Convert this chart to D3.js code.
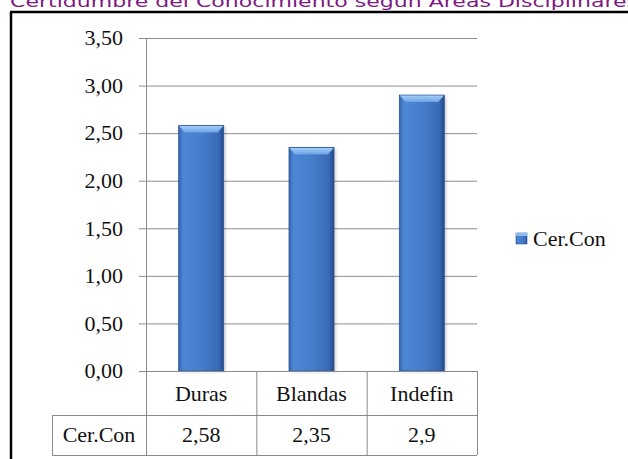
<html>
<head>
<meta charset="utf-8">
<script src="https://d3js.org/d3.v7.min.js"></script>
<style>
body { margin: 0; background: #fff; }
svg { display: block; }
</style>
</head>
<body>
<svg id="chart" width="628" height="459"></svg>
<script>
// data
var categories = ["Duras", "Blandas", "Indefin"];
var values = [2.58, 2.35, 2.9];
var valueLabels = ["2,58", "2,35", "2,9"];
var seriesName = "Cer.Con";
var yTicks = [0, 0.5, 1, 1.5, 2, 2.5, 3, 3.5];
var title = "Certidumbre del Conocimiento según Áreas Disciplinares";

var svg = d3.select("#chart");
var serif = "'Liberation Serif', 'DejaVu Serif', serif";
var fontSize = 22;

// scales
var x = d3.scaleBand().domain(categories).range([146, 477]);
var y = d3.scaleLinear().domain([0, 3.5]).range([371, 38]);
var barW = 45;
var fmt = function(d){ return d3.format(".2f")(d).replace(".", ","); };

function label(sel){
  return sel.style("font-family", serif).style("font-size", fontSize + "px").attr("fill", "#111");
}

var defs = svg.append("defs");
var g1 = defs.append("linearGradient").attr("id", "barGrad").attr("x1", 0).attr("x2", 1).attr("y1", 0).attr("y2", 0);
g1.append("stop").attr("offset", "0%").attr("stop-color", "#3566b0");
g1.append("stop").attr("offset", "10%").attr("stop-color", "#4d86d4");
g1.append("stop").attr("offset", "50%").attr("stop-color", "#467ecc");
g1.append("stop").attr("offset", "88%").attr("stop-color", "#3a6ab6");
g1.append("stop").attr("offset", "100%").attr("stop-color", "#234a8c");
var g2 = defs.append("linearGradient").attr("id", "topGrad").attr("x1", 0).attr("x2", 0).attr("y1", 0).attr("y2", 1);
g2.append("stop").attr("offset", "0%").attr("stop-color", "#a4cdf8");
g2.append("stop").attr("offset", "100%").attr("stop-color", "#6aa2e6");
defs.append("filter").attr("id", "blur").append("feGaussianBlur").attr("stdDeviation", 1.5);

// title (cut at the top like the original)
svg.append("text")
  .attr("x", 10).attr("y", 7)
  .attr("textLength", 628).attr("lengthAdjust", "spacingAndGlyphs")
  .style("font-family", "'DejaVu Sans', sans-serif")
  .style("font-size", "16px")
  .attr("fill", "#7d1a80")
  .text(title);

// frame
svg.append("line").attr("x1", 10).attr("x2", 628).attr("y1", 12).attr("y2", 12)
  .attr("stroke", "#000").attr("stroke-width", 2.5);
svg.append("line").attr("x1", 11).attr("x2", 11).attr("y1", 12).attr("y2", 459)
  .attr("stroke", "#000").attr("stroke-width", 2.5);

var gridColor = "#8e8e8e";

// grid + ticks
svg.selectAll(".grid").data(yTicks.filter(function(d){ return d > 0; })).enter().append("line")
  .attr("x1", 146).attr("x2", 477)
  .attr("y1", function(d){ return y(d) + 0.5; }).attr("y2", function(d){ return y(d) + 0.5; })
  .attr("stroke", gridColor).attr("stroke-width", 1);
svg.selectAll(".tick").data(yTicks).enter().append("line")
  .attr("x1", 139).attr("x2", 146)
  .attr("y1", function(d){ return y(d) + 0.5; }).attr("y2", function(d){ return y(d) + 0.5; })
  .attr("stroke", gridColor);
label(svg.selectAll(".ylab").data(yTicks).enter().append("text")
  .attr("x", 123).attr("y", function(d){ return y(d); }).attr("dy", "0.33em")
  .attr("text-anchor", "end"))
  .text(fmt);

// bars
var bars = svg.selectAll(".bar").data(values).enter().append("g");
bars.append("rect")
  .attr("x", function(d, i){ return x(categories[i]) + x.bandwidth()/2 - barW/2 + 2; })
  .attr("y", function(d){ return y(d) + 1; })
  .attr("width", barW).attr("height", function(d){ return y(0) - y(d); })
  .attr("fill", "#000").attr("opacity", 0.18).attr("filter", "url(#blur)");
bars.append("rect")
  .attr("x", function(d, i){ return x(categories[i]) + x.bandwidth()/2 - barW/2; })
  .attr("y", function(d){ return y(d); })
  .attr("width", barW).attr("height", function(d){ return y(0) - y(d); })
  .attr("fill", "url(#barGrad)").attr("stroke", "#2c5597").attr("stroke-width", 0.8);
bars.append("polygon")
  .attr("points", function(d, i){
    var x0 = x(categories[i]) + x.bandwidth()/2 - barW/2, x1 = x0 + barW, t = y(d);
    return [[x0 + 0.5, t + 0.5], [x1 - 0.5, t + 0.5], [x1 - 6, t + 7], [x0 + 6, t + 7]].join(" ");
  })
  .attr("fill", "url(#topGrad)");

// data table
var tableColor = "#8a8a8a";
var rowTop = y(0), rowMid = 415, rowBot = 455;
svg.append("line").attr("x1", 146).attr("x2", 477).attr("y1", rowTop + 0.5).attr("y2", rowTop + 0.5).attr("stroke", tableColor);
svg.append("line").attr("x1", 52).attr("x2", 477).attr("y1", rowMid + 0.5).attr("y2", rowMid + 0.5).attr("stroke", tableColor);
svg.append("line").attr("x1", 52).attr("x2", 477).attr("y1", rowBot + 0.5).attr("y2", rowBot + 0.5).attr("stroke", tableColor);
svg.append("line").attr("x1", 52.5).attr("x2", 52.5).attr("y1", rowMid).attr("y2", rowBot).attr("stroke", tableColor);
svg.append("line").attr("x1", 146.5).attr("x2", 146.5).attr("y1", y(3.5)).attr("y2", rowBot).attr("stroke", tableColor);
svg.selectAll(".vsep").data(categories).enter().append("line")
  .attr("x1", function(d){ return x(d) + x.bandwidth() + 0.5; })
  .attr("x2", function(d){ return x(d) + x.bandwidth() + 0.5; })
  .attr("y1", rowTop).attr("y2", rowBot).attr("stroke", tableColor);

label(svg.selectAll(".cat").data(categories).enter().append("text")
  .attr("x", function(d){ return x(d) + x.bandwidth()/2; }).attr("y", 401)
  .attr("text-anchor", "middle"))
  .text(function(d){ return d; });
label(svg.selectAll(".val").data(valueLabels).enter().append("text")
  .attr("x", function(d, i){ return x(categories[i]) + x.bandwidth()/2; }).attr("y", 442)
  .attr("text-anchor", "middle"))
  .text(function(d){ return d; });
label(svg.append("text").attr("x", 99).attr("y", 442).attr("text-anchor", "middle")).text(seriesName);

// legend
svg.append("rect").attr("x", 516).attr("y", 233).attr("width", 11).attr("height", 11)
  .attr("fill", "url(#barGrad)").attr("stroke", "#2c5597").attr("stroke-width", 0.6);
svg.append("rect").attr("x", 516).attr("y", 233).attr("width", 11).attr("height", 3).attr("fill", "#8dbbf0");
label(svg.append("text").attr("x", 533).attr("y", 246)).text(seriesName);
</script>
</body>
</html>
